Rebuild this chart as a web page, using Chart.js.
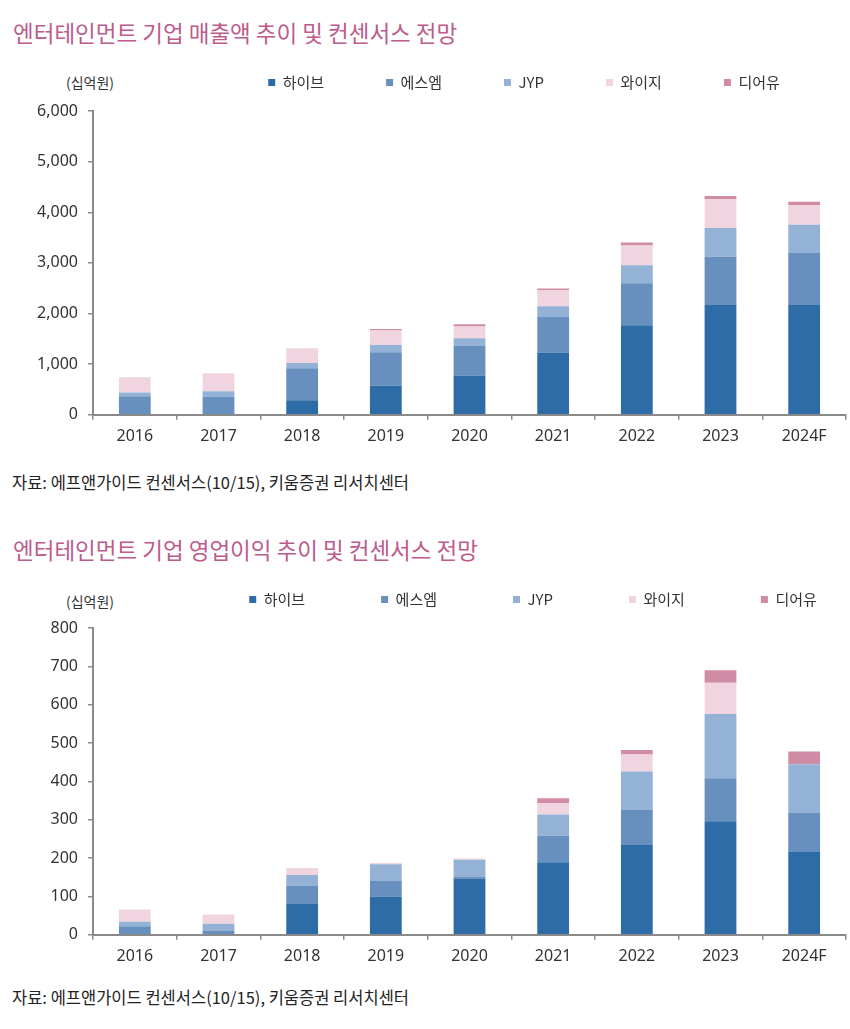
<!DOCTYPE html>
<html>
<head>
<meta charset="utf-8">
<script src="https://cdn.jsdelivr.net/npm/chart.js"></script>
<style>
  body { margin: 0; background: #fff; width: 850px; height: 1029px; position: relative; overflow: hidden;
         font-family: "Noto Sans CJK KR", "Noto Sans", sans-serif; }
  .title { position: absolute; left: 13px; font-size: 22.5px; line-height: 22px; color: #bd5b8c; white-space: nowrap; }
  .src { position: absolute; left: 12px; font-size: 16.5px; line-height: 16px; color: #222; white-space: nowrap; }
  .unit { position: absolute; left: 66px; font-size: 14px; line-height: 14px; color: #333; white-space: nowrap; }
  .box { position: absolute; left: 0; width: 850px; }
</style>
</head>
<body>
<div class="title" style="top:21px">엔터테인먼트 기업 매출액 추이 및 컨센서스 전망</div>
<div class="unit" style="top:75px">(십억원)</div>
<div class="box" style="top:20px;height:437px"><canvas id="salesChart"></canvas></div>
<div class="src" style="top:474px">자료: 에프앤가이드 컨센서스(10/15), 키움증권 리서치센터</div>

<div class="title" style="top:538px">엔터테인먼트 기업 영업이익 추이 및 컨센서스 전망</div>
<div class="unit" style="top:594px">(십억원)</div>
<div class="box" style="top:520px;height:457px"><canvas id="opChart"></canvas></div>
<div class="src" style="top:989px">자료: 에프앤가이드 컨센서스(10/15), 키움증권 리서치센터</div>

<script>
var years = ['2016', '2017', '2018', '2019', '2020', '2021', '2022', '2023', '2024F'];
var companies = ['하이브', '에스엠', 'JYP', '와이지', '디어유'];
var colors = ['#2e6ca7', '#6890be', '#94b2d6', '#f0d4df', '#cf8ca4'];

// 매출액 (십억원)
var salesHybe = [0, 0, 288, 572, 775, 1229, 1769, 2170, 2170];
var salesSM   = [367, 361, 631, 663, 592, 704, 828, 953, 1026];
var salesJYP  = [72, 105, 106, 146, 146, 211, 355, 566, 559];
var salesYG   = [302, 355, 288, 282, 230, 322, 394, 572, 388];
var salesDear = [0, 0, 0, 30, 45, 30, 55, 60, 65];

// 영업이익 (십억원)
var opHybe = [0, 0, 80, 100, 147, 189, 234, 296, 216];
var opSM   = [22, 11, 47, 40, 5, 69, 93, 112, 103];
var opJYP  = [12, 18, 29, 44, 44, 56, 99, 168, 126];
var opYG   = [32, 24, 18, 3, 3, 30, 44, 81, 0];
var opDear = [0, 0, 0, 0, 0, 12, 12, 33, 33];

var axisColor = '#8a8a8a';
var tickFont = { family: 'Noto Sans', size: 16 };

// legend sits off-centre in the original, nudge it after layout
var legendShift = {
  id: 'legendShift',
  afterLayout: function (chart, args, opts) {
    var lg = chart.legend;
    if (!lg) return;
    lg.left += opts.dx; lg.right += opts.dx;
    lg.top += opts.dy; lg.bottom += opts.dy;
  }
};

function makeChart(id, series, maxY, step, legendPad, dx, padTop) {
  var datasets = series.map(function (d, i) {
    return {
      label: companies[i],
      data: d,
      backgroundColor: colors[i],
      borderWidth: 0,
      barPercentage: 0.38,
      categoryPercentage: 1.0
    };
  });
  return new Chart(document.getElementById(id), {
    type: 'bar',
    data: { labels: years, datasets: datasets },
    plugins: [legendShift],
    options: {
      responsive: true,
      maintainAspectRatio: false,
      animation: false,
      layout: { padding: { top: padTop, right: 4, bottom: 4, left: 0 } },
      plugins: {
        tooltip: { enabled: false },
        legendShift: { dx: dx, dy: -11 },
        legend: {
          position: 'top',
          labels: {
            boxWidth: 7, boxHeight: 7,
            padding: legendPad,
            color: '#333',
            font: { family: 'Noto Sans CJK KR', size: 15 }
          }
        }
      },
      scales: {
        x: {
          stacked: true,
          grid: { drawOnChartArea: false, offset: true, tickLength: 5, color: axisColor, lineWidth: 1.5 },
          border: { color: axisColor, width: 2 },
          ticks: { color: '#333', font: tickFont, padding: 7 }
        },
        y: {
          stacked: true,
          min: 0, max: maxY,
          afterFit: function (s) { s.width = 93; },
          grid: { drawOnChartArea: false, tickLength: 5, color: axisColor, lineWidth: 1.5 },
          border: { color: axisColor, width: 2 },
          ticks: { stepSize: step, color: '#333', font: tickFont, padding: 10 }
        }
      }
    }
  });
}

makeChart('salesChart', [salesHybe, salesSM, salesJYP, salesYG, salesDear], 6000, 1000, 62, 101, 4);
makeChart('opChart', [opHybe, opSM, opJYP, opYG, opDear], 800, 100, 76, 110, 7);
</script>
</body>
</html>
